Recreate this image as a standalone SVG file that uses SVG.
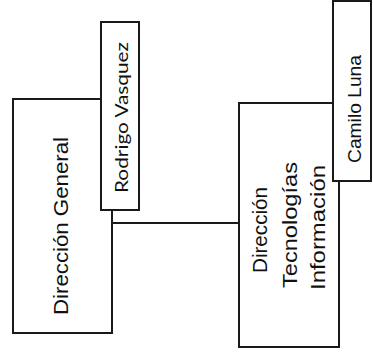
<svg xmlns="http://www.w3.org/2000/svg" width="373" height="356" viewBox="0 0 373 356">
<style>
.box{fill:#fff;stroke:#1a1a1a;stroke-width:2}
.ln{stroke:#1a1a1a;stroke-width:2;fill:none}
.t{font-family:"Liberation Sans",Arial,sans-serif;fill:#111}
.c{font-family:Lato,"Open Sans",sans-serif;fill:#111}
</style>
<rect width="373" height="356" fill="#fff"/>
<g id="connectors">
<line class="ln" x1="112" y1="223" x2="239" y2="223"/>
</g>
<g id="dir-general">
<rect class="box" x="13" y="99" width="99" height="234"/>
<text class="t" font-size="20" transform="translate(68,315) rotate(-90)" textLength="178" lengthAdjust="spacingAndGlyphs">Dirección General</text>
</g>
<g id="rodrigo">
<rect class="box" x="101" y="22" width="38" height="188"/>
<text class="c" font-size="18" transform="translate(128,193) rotate(-90)" textLength="151" lengthAdjust="spacingAndGlyphs">Rodrigo Vasquez</text>
</g>
<g id="dir-tecnologias">
<rect class="box" x="239" y="103" width="100" height="244"/>
<text class="t" font-size="21" transform="translate(267,273) rotate(-90)" textLength="86" lengthAdjust="spacingAndGlyphs">Dirección</text>
<text class="t" font-size="21" transform="translate(297,288) rotate(-90)" textLength="126" lengthAdjust="spacingAndGlyphs">Tecnologías</text>
<text class="t" font-size="21" transform="translate(325,290) rotate(-90)" textLength="125" lengthAdjust="spacingAndGlyphs">Información</text>
</g>
<g id="camilo">
<rect class="box" x="333" y="1" width="38" height="180"/>
<text class="t" font-size="19" transform="translate(361,163) rotate(-90)" textLength="108" lengthAdjust="spacingAndGlyphs">Camilo Luna</text>
</g>
</svg>
